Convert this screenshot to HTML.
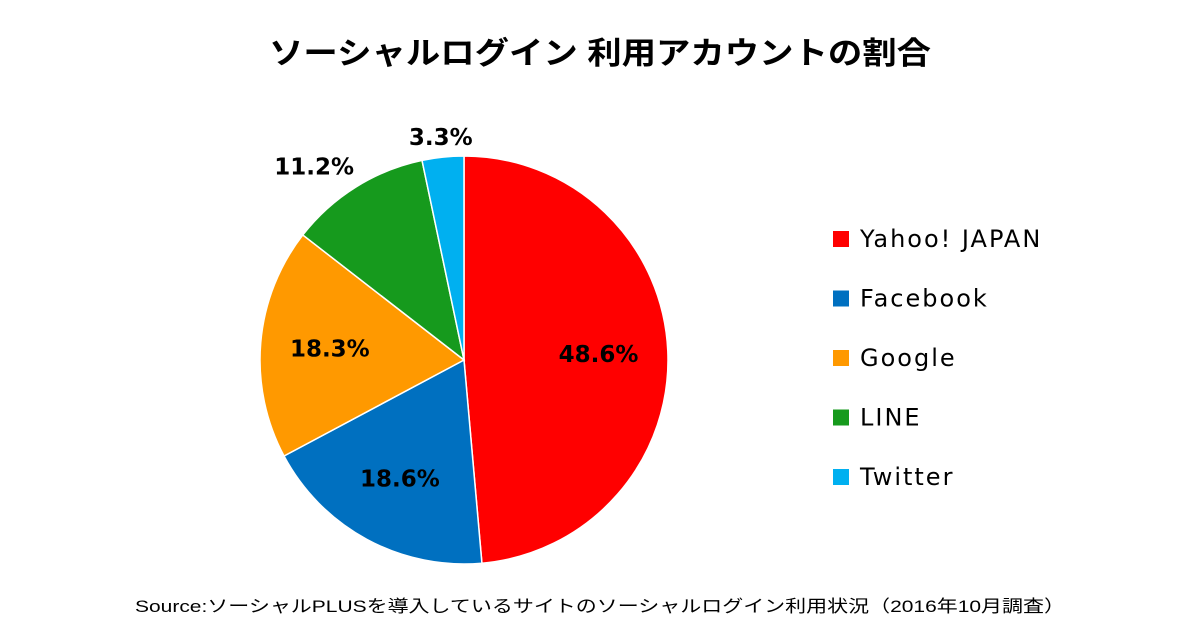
<!DOCTYPE html>
<html><head><meta charset="utf-8"><style>
body{margin:0;width:1200px;height:630px;background:#fff;overflow:hidden;font-family:"DejaVu Sans","Noto Sans CJK JP",sans-serif;}
</style></head><body>
<svg id="c" width="1200" height="630">
<text x="600" y="64" text-anchor="middle" font-size="31" font-weight="bold" textLength="662" lengthAdjust="spacingAndGlyphs" font-family="Liberation Sans,Noto Sans CJK JP,sans-serif">ソーシャルログイン 利用アカウントの割合</text>
<text x="600" y="612" text-anchor="middle" font-size="17" textLength="930" lengthAdjust="spacingAndGlyphs" font-family="Liberation Sans,Noto Sans CJK JP,sans-serif">Source:ソーシャルPLUSを導入しているサイトのソーシャルログイン利用状況（2016年10月調査）</text>
</svg>
<script>
const categories=["Yahoo! JAPAN","Facebook","Google","LINE","Twitter"];
const values=[48.6,18.6,18.3,11.2,3.3];
const labels=["48.6%","18.6%","18.3%","11.2%","3.3%"];
const colors=["#ff0000","#0070c0","#ff9900","#169a1d","#00b0f0"];
const svg=document.getElementById('c');const NS="http://www.w3.org/2000/svg";
const cx=464,cy=360,r=204;
const total=values.reduce((a,b)=>a+b,0);
function pt(a,rr){return [cx+rr*Math.sin(a),cy-rr*Math.cos(a)];}
let acc=0;
values.forEach((v,i)=>{
 const a0=acc/total*2*Math.PI;acc+=v;const a1=acc/total*2*Math.PI;
 const p0=pt(a0,r),p1=pt(a1,r);
 const path=document.createElementNS(NS,'path');
 path.setAttribute('d',`M${cx},${cy}L${p0[0]},${p0[1]}A${r},${r} 0 ${a1-a0>Math.PI?1:0} 1 ${p1[0]},${p1[1]}Z`);
 path.setAttribute('fill',colors[i]);path.setAttribute('stroke','#fff');path.setAttribute('stroke-width','1.5');
 
 
 svg.appendChild(path);
});
acc=0;
values.forEach((v,i)=>{
 const am=(acc+v/2)/total*2*Math.PI;acc+=v;
 const frac=v/total;
 const f=frac<0.05?1.1:(frac<0.15?1.2:0.66);
 const p=pt(am,r*f);
 const dx=(frac<0.15&&frac>=0.05)?-20:0;
 const dy=(frac<0.15&&frac>=0.05)?14:0;
 const t=document.createElementNS(NS,'text');
 t.setAttribute('x',p[0]+dx);t.setAttribute('y',p[1]+8+dy);t.setAttribute('text-anchor','middle');
 t.setAttribute('font-size','23');t.setAttribute('font-weight','bold');
 t.textContent=labels[i];
 
 
 svg.appendChild(t);
 const sq=document.createElementNS(NS,'rect');
 sq.setAttribute('x',833);sq.setAttribute('y',231+i*59.5);sq.setAttribute('width',16);sq.setAttribute('height',16);sq.setAttribute('fill',colors[i]);
 
 
 svg.appendChild(sq);
 const lt=document.createElementNS(NS,'text');
 lt.setAttribute('x',860);lt.setAttribute('y',247+i*59.5);lt.setAttribute('font-size','24');
 lt.setAttribute('letter-spacing','2');
 lt.textContent=categories[i];
 
 
 svg.appendChild(lt);
});
</script>
</body></html>
